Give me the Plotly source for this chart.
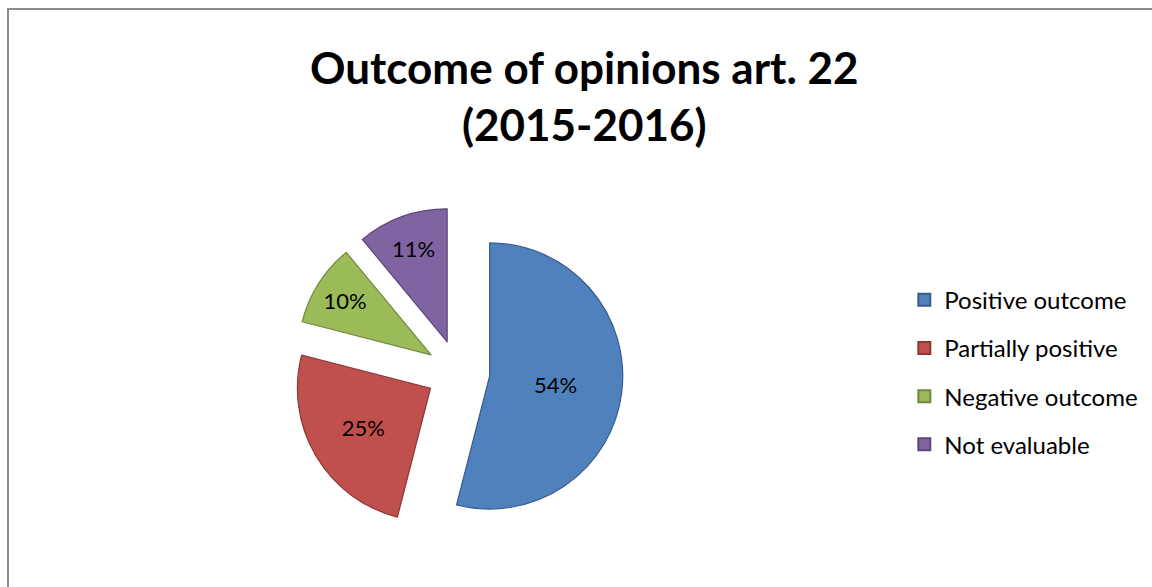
import plotly.graph_objects as go

# Outcome categories and their shares (percent)
categories = ["Positive outcome", "Partially positive", "Negative outcome", "Not evaluable"]
shares = [54, 25, 10, 11]
fill_colors = ["#4F81BD", "#C0504D", "#9BBB59", "#8064A2"]
edge_colors = ["#385D8A", "#8C3836", "#71893F", "#5C4776"]

FONT = "Lato"

fig = go.Figure()

fig.add_trace(go.Pie(
    labels=categories,
    values=shares,
    sort=False,
    direction="clockwise",
    rotation=0,
    pull=[0.24] * len(shares),
    marker=dict(colors=fill_colors, line=dict(color=edge_colors, width=1.2)),
    textinfo="percent",
    texttemplate="%{percent:.0%}",
    textposition="inside",
    insidetextorientation="horizontal",
    textfont=dict(family=FONT, size=22, color="#000000"),
    domain=dict(x=[0.2543, 0.5408], y=[0.0852, 0.6474]),
    showlegend=False,
    hoverinfo="label+percent",
))

# Legend entries, one group each so the rows are spaced apart
for name, fc, ec in zip(categories, fill_colors, edge_colors):
    fig.add_trace(go.Scatter(
        x=[None], y=[None], mode="markers", name=name, legendgroup=name,
        marker=dict(symbol="square", size=13, color=fc, line=dict(color=ec, width=1.5)),
    ))

fig.update_layout(
    width=1152, height=587,
    margin=dict(l=0, r=0, t=0, b=0),
    paper_bgcolor="#FFFFFF",
    plot_bgcolor="#FFFFFF",
    xaxis=dict(visible=False),
    yaxis=dict(visible=False),
    annotations=[dict(
        text="<b>Outcome of opinions art. 22<br>(2015-2016)</b>",
        xref="paper", yref="paper", x=0.507, y=(587 - 95) / 587,
        xanchor="center", yanchor="middle", showarrow=False, align="center",
        font=dict(family=FONT, size=44, color="#000000"),
    )],
    legend=dict(
        x=0.785, xanchor="left", y=0.366, yanchor="middle",
        font=dict(family=FONT, size=24, color="#000000"),
        tracegroupgap=14, itemsizing="constant",
        bgcolor="rgba(0,0,0,0)",
    ),
    shapes=[dict(
        type="rect", xref="paper", yref="paper",
        x0=8 / 1152, x1=1.02, y0=-0.02, y1=(587 - 9) / 587,
        line=dict(color="#8C8C8C", width=2), fillcolor="rgba(0,0,0,0)",
    )],
)

fig.write_html("out.html")
